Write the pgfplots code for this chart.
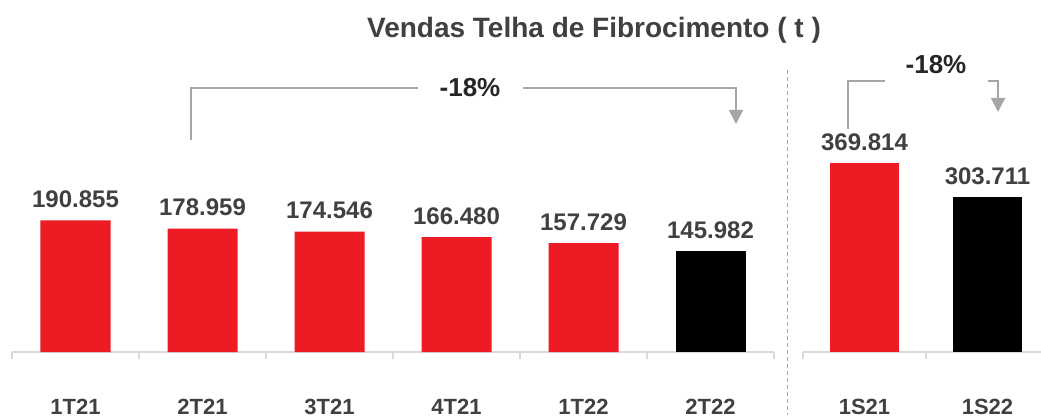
\documentclass[border=0pt]{standalone}
\usepackage{pgfplots}
\pgfplotsset{compat=1.18}
\usepackage{fontspec}
\setmainfont{Liberation Sans}
\usetikzlibrary{arrows.meta}
\definecolor{barred}{HTML}{ED1C24}
\definecolor{txt}{HTML}{404040}
\definecolor{axgrey}{HTML}{D9D9D9}
\definecolor{brk}{HTML}{A6A6A6}
\pgfplotsset{
  mybars/.style={
    scale only axis,
    anchor=south west,
    axis x line=bottom,
    axis y line=none,
    axis line style={-,axgrey,line width=1.5pt},
    ymin=0,
    enlargelimits=false,
    clip=false,
    ybar,
    bar shift=0pt,
    ytick=\empty,
    major tick length=0pt,
    minor tick length=7pt,
    tick align=outside,
    every tick/.style={axgrey,line width=1.5pt},
    minor tick style={axgrey,line width=1.5pt},
    xticklabel style={anchor=base,inner sep=0pt,yshift=-62pt,font=\fontsize{22}{26}\selectfont\bfseries,text=txt},
    point meta=explicit symbolic,
    nodes near coords,
    every node near coord/.append style={anchor=base,inner sep=0pt,yshift=13pt,font=\fontsize{24}{28}\selectfont\bfseries,text=txt},
  }
}
\begin{document}
\begin{tikzpicture}[x=1pt,y=1pt]
\useasboundingbox (0,0) rectangle (1041,415);
% title
\node[anchor=base,inner sep=0pt,font=\fontsize{28}{32}\selectfont\bfseries,text=txt] at (594,377) {Vendas Telha de Fibrocimento ( t )};
% left axis
\begin{axis}[mybars,
  at={(12pt,63pt)}, width=762pt, height=207pt,
  xmin=-0.5, xmax=5.5, ymax=300,
  xtick={0,1,2,3,4,5},
  xticklabels={1T21,2T21,3T21,4T21,1T22,2T22},
  minor xtick={-0.5,0.5,1.5,2.5,3.5,4.5,5.5},
  bar width=70pt]
\addplot[fill=barred,draw=none] coordinates {(0,190.855) [190.855] (1,178.959) [178.959] (2,174.546) [174.546] (3,166.480) [166.480] (4,157.729) [157.729]};
\addplot[fill=black,draw=none] coordinates {(5,145.982) [145.982]};
\end{axis}
% right axis
\begin{axis}[mybars,
  at={(803pt,63pt)}, width=238pt, height=255pt,
  xmin=-0.5, xmax=1.435, ymax=500,
  xtick={0,1},
  xticklabels={1S21,1S22},
  minor xtick={-0.5,0.5},
  bar width=69pt]
\addplot[fill=barred,draw=none] coordinates {(0,369.814) [369.814]};
\addplot[fill=black,draw=none] coordinates {(1,303.711) [303.711]};
\end{axis}
% separator
\draw[brk,line width=1pt,dash pattern=on 4pt off 3pt] (787,345) -- (787,0);
% left bracket
\draw[brk,line width=2pt] (191,275) -- (191,327) -- (418,327);
\draw[brk,line width=2pt,-{Triangle[width=14pt,length=14pt]}] (523,327) -- (736,327) -- (736,291);
\node[font=\fontsize{26}{30}\selectfont\bfseries,text=black!85] at (470,327) {-18\%};
% right bracket
\draw[brk,line width=2pt] (848,286) -- (848,334) -- (885,334);
\draw[brk,line width=2pt,-{Triangle[width=14pt,length=14pt]}] (988,334) -- (998,334) -- (998,303);
\node[font=\fontsize{26}{30}\selectfont\bfseries,text=black!85] at (936,350) {-18\%};
\end{tikzpicture}
\end{document}
